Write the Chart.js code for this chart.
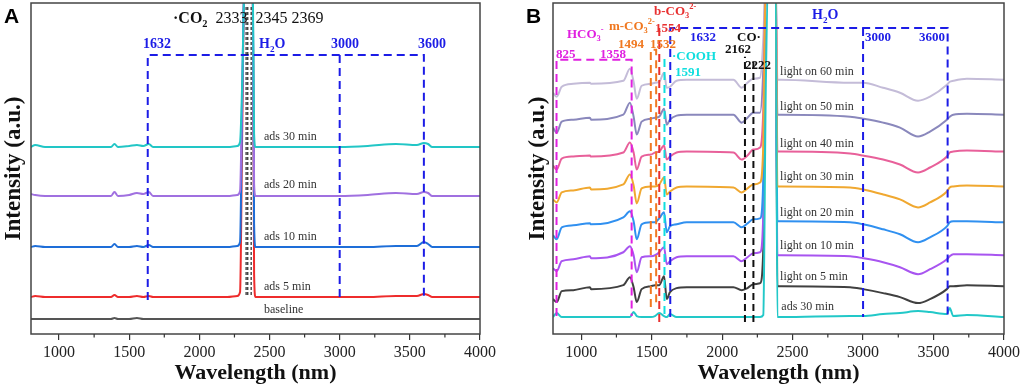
<!DOCTYPE html>
<html>
<head>
<meta charset="utf-8">
<script src="https://cdn.jsdelivr.net/npm/chart.js@4.4.0/dist/chart.umd.min.js"></script>
<style>
  body { margin:0; background:#fff; width:1024px; height:391px; overflow:hidden; position:relative; font-family:"Liberation Serif","Times New Roman",serif; }
  canvas { position:absolute; top:0; }
  .lbl { position:absolute; white-space:nowrap; line-height:1; transform:translateY(-50%); }
  .lbl sub, .lbl sup { font-size:65%; line-height:0; }
  .panel { position:absolute; font-family:"Liberation Sans",Arial,sans-serif; font-weight:bold; font-size:21px; }
</style>
</head>
<body>
<canvas id="chartA" width="512" height="391" style="left:0"></canvas>
<canvas id="chartB" width="512" height="391" style="left:512px"></canvas>
<div class="panel" style="left:4px;top:4px">A</div>
<div class="panel" style="left:526px;top:4px">B</div>
<script>
// ---- panel A data (wavelength grid + one array per spectrum, a.u.) ----
const wavelengthA = [800, 830, 900, 1100, 1300, 1370, 1395, 1420, 1500, 1555, 1600, 1640, 1670, 1800, 2000, 2200, 2270, 2290, 2305, 2320, 2370, 2380, 2390, 2400, 2600, 3000, 3200, 3400, 3550, 3600, 3630, 3660, 3800, 4000];
const ads30A   = [187,189,187,187,187,187,190,187,188,189,188,190,187,187,187,187,188,192,250,340,360,360,200,187,187,187,188,190,189,191,190,187,187,187];
const ads20A   = [140,139,138,138,138,138,142,138,139,141,140,142,138,138,138,138,139,143,240,345,360,360,150,138,138,138,139,141,140,142,141,138,138,138];
const ads10A   = [87,88,87,87,87,87,90,87,87,88,87,89,87,87,87,87,88,92,230,345,360,360,110,87,87,87,87,88,88,92,90,87,87,87];
const ads5A    = [37,38,37,37,37,37,39,37,37,38,37,38,37,37,37,37,38,42,200,345,360,360,60,37,37,37,37,38,38,40,39,37,37,37];
const baseA    = [15,15,15,15,15,15,16,15,15,16,15,15,15,15,15,15,15,15,15,15,15,15,15,15,15,15,15,15,15,15,15,15,15,15];
const h2oBandA = [1632, 3000, 3600];
const co2BandA = [2333, 2345, 2369];

// ---- panel B data ----
const wavelengthB = [800, 826, 862, 944, 1062, 1070, 1299, 1346, 1372, 1394, 1429, 1495, 1524, 1554, 1588, 1607, 1630, 1677, 1749, 2080, 2139, 2180, 2221, 2269, 2292, 2310, 2330, 2360, 2380, 2392, 2420, 2908, 3000, 3142, 3262, 3390, 3475, 3595, 3615, 3640, 3737, 4000];
const light60 = [242,238,248,251,252,251,254,266,253,236,249,251,252,253,262,247,248,254,255,255,247,252,256,257,295,360,360,360,360,255,255,252,252,247,242,234,238,250,253,254,256,255];
const light50 = [207,202,213,215,217,215,220,232,218,200,213,216,217,218,226,210,215,219,220,220,212,217,222,222,265,360,360,360,360,220,220,218,216,212,207,198,203,215,218,220,221,220];
const light40 = [169,165,176,178,179,178,182,192,182,165,178,180,182,183,189,175,178,182,183,182,175,179,185,187,225,360,360,360,360,183,183,181,179,175,170,162,167,178,182,183,184,183];
const light30 = [135,132,142,144,147,145,150,160,149,131,146,148,148,150,157,140,143,147,148,147,142,146,150,152,190,360,360,360,360,148,148,147,145,140,135,127,132,143,147,148,149,148];
const light20 = [99,95,107,109,111,110,117,123,113,95,110,112,112,116,122,102,108,110,112,112,107,111,115,116,155,360,360,360,360,113,113,112,110,105,100,92,97,108,112,113,113,112];
const light10 = [66,63,73,75,78,76,82,88,79,62,77,78,79,82,87,70,73,77,78,78,73,77,81,82,120,360,360,360,360,79,79,78,76,72,67,60,65,75,78,80,80,79];
const light5  = [35,32,43,44,47,45,49,57,47,32,45,48,49,49,58,35,42,46,47,47,44,46,50,51,85,360,360,360,360,48,48,47,45,41,37,31,35,45,48,48,49,48];
const ads30B  = [17,21,17,17,17,17,17,17,22,18,17,17,18,21,18,17,20,17,17,17,17,17,17,17,19,250,360,360,360,17,17,18,18,20,21,23,22,20,26,18,19,17];
const hco3B = [825, 1358];
const mco3B = [1494, 1532];
const bco3B = [1554];
const coohB = [1591];
const h2oB  = [1632, 3000, 3600];
const coB   = [2162, 2222];

const xTicks = [1000, 1500, 2000, 2500, 3000, 3500, 4000];
const minorTicks = [1250, 1750, 2250, 2750, 3250, 3750];

const serif = '"Liberation Serif","Times New Roman",serif';
const BLUE = '#1c1ce6', MAG = '#e020e0', ORG = '#f07820', RED = '#e83030', CYN = '#10dede', BLK = '#111';

function series(xs, ys) { return xs.map((w, i) => ({x: w, y: ys[i]})); }
function spectrum(xs, ys, color) {
  return { data: series(xs, ys), borderColor: color, borderWidth: 2, pointRadius: 0,
           cubicInterpolationMode: 'monotone', fill: false };
}
function guide(points, color, width, dash) {
  return { data: points, borderColor: color, borderWidth: width, borderDash: dash,
           pointRadius: 0, tension: 0, fill: false };
}
// vertical dashed line from y0 up to y1
function vline(w, y0, y1) { return [{x: w, y: y0}, {x: w, y: y1}]; }
// open box: up the left side, across the top, down the right side
function box(w0, w1, top, bot) { return [{x: w0, y: bot}, {x: w0, y: top}, {x: w1, y: top}, {x: w1, y: bot}]; }

const framePlugin = {
  id: 'frame',
  afterDraw(chart) {
    const {ctx, chartArea: a, scales: {x}} = chart;
    ctx.save();
    ctx.strokeStyle = '#444';
    ctx.lineWidth = 1.5;
    ctx.strokeRect(a.left, a.top, a.right - a.left, a.bottom - a.top);
    ctx.lineWidth = 1.2;
    ctx.strokeStyle = '#333';
    minorTicks.forEach(v => {
      const px = x.getPixelForValue(v);
      ctx.beginPath(); ctx.moveTo(px, a.bottom); ctx.lineTo(px, a.bottom + 3.5); ctx.stroke();
    });
    ctx.restore();
  }
};

function labelPlugin(labels, offsetX) {
  return {
    id: 'labels',
    afterRender(chart) {
      if (chart._labelsDone) return;
      chart._labelsDone = true;
      labels.forEach(l => {
        const d = document.createElement('div');
        d.className = 'lbl';
        d.innerHTML = l.html;
        d.style.left = (offsetX + chart.scales.x.getPixelForValue(l.x)) + 'px';
        d.style.top = chart.scales.y.getPixelForValue(l.y) + 'px';
        d.style.color = l.color || '#333';
        d.style.fontSize = (l.size || 12) + 'px';
        if (l.bold) d.style.fontWeight = 'bold';
        document.body.appendChild(d);
      });
    }
  };
}

function makeOptions(yMax, yWidth, rightPad, yTitlePad) {
  return {
    responsive: false, animation: false, devicePixelRatio: 1,
    layout: { padding: { top: 3, right: rightPad, left: 0, bottom: 0 } },
    plugins: { legend: { display: false }, tooltip: { enabled: false } },
    scales: {
      x: {
        type: 'linear', min: 800, max: 4000,
        afterBuildTicks: s => { s.ticks = xTicks.map(v => ({value: v})); },
        afterFit: s => { s.height = 57; },
        grid: { display: true, drawOnChartArea: false, drawTicks: true, tickLength: 6, color: '#333', lineWidth: 1.2 },
        border: { display: false },
        ticks: { color: '#222', font: { family: serif, size: 16 }, padding: 3, maxRotation: 0,
                 callback: v => String(v) },
        title: { display: true, text: 'Wavelength (nm)', color: BLK,
                 font: { family: serif, size: 22, weight: 'bold' }, padding: { top: 0, bottom: 4 } }
      },
      y: {
        min: 0, max: yMax,
        afterFit: s => { s.width = yWidth; },
        grid: { display: false }, border: { display: false },
        ticks: { display: false },
        title: { display: true, text: 'Intensity (a.u.)', color: BLK,
                 font: { family: serif, size: 23, weight: 'bold' }, padding: { top: yTitlePad, bottom: 0 } }
      }
    }
  };
}

// ---- panel A ----
const labelsA = [
  { html: '<b>·CO<sub>2</sub></b>&nbsp; 2333&nbsp; 2345 2369', x: 1812, y: 316, color: BLK, size: 16 },
  { html: '1632', x: 1598, y: 290, color: BLUE, size: 14, bold: true },
  { html: 'H<sub>2</sub>O', x: 2425, y: 290, color: BLUE, size: 14, bold: true },
  { html: '3000', x: 2938, y: 290, color: BLUE, size: 14, bold: true },
  { html: '3600', x: 3558, y: 290, color: BLUE, size: 14, bold: true },
  { html: 'ads 30 min', x: 2461, y: 198 },
  { html: 'ads 20 min', x: 2461, y: 150 },
  { html: 'ads 10 min', x: 2461, y: 98 },
  { html: 'ads 5 min', x: 2461, y: 48 },
  { html: 'baseline', x: 2461, y: 25 }
];

new Chart(document.getElementById('chartA'), {
  type: 'line',
  data: { datasets: [
    ...co2BandA.map(w => guide(vline(w, 39, 327), BLK, 1.1, [3, 2])),
    guide(box(h2oBandA[0], h2oBandA[2], 279, 34), BLUE, 2, [8, 5]),
    guide(vline(h2oBandA[1], 279, 32), BLUE, 2, [8, 5]),
    spectrum(wavelengthA, ads30A, '#22c6c6'),
    spectrum(wavelengthA, ads20A, '#a070e0'),
    spectrum(wavelengthA, ads10A, '#1e6ed8'),
    spectrum(wavelengthA, ads5A, '#ee2c2c'),
    spectrum(wavelengthA, baseA, '#555555')
  ]},
  options: makeOptions(331, 31, 32, 0),
  plugins: [framePlugin, labelPlugin(labelsA, 0)]
});

// ---- panel B ----
const labelsB = [
  { html: 'HCO<sub>3</sub><sup>-</sup>', x: 899, y: 302, color: MAG, size: 13, bold: true },
  { html: '825', x: 821, y: 282, color: MAG, size: 13, bold: true },
  { html: '1358', x: 1133, y: 282, color: MAG, size: 13, bold: true },
  { html: 'm-CO<sub>3</sub><sup>2-</sup>', x: 1197, y: 310, color: ORG, size: 13, bold: true },
  { html: '1494', x: 1261, y: 292, color: ORG, size: 13, bold: true },
  { html: '1532', x: 1488, y: 292, color: ORG, size: 13, bold: true },
  { html: 'b-CO<sub>3</sub><sup>2-</sup>', x: 1517, y: 325, color: RED, size: 13, bold: true },
  { html: '1554', x: 1524, y: 308, color: RED, size: 13, bold: true },
  { html: '·COOH', x: 1644, y: 280, color: CYN, size: 13, bold: true },
  { html: '1591', x: 1666, y: 264, color: CYN, size: 13, bold: true },
  { html: '1632', x: 1772, y: 299, color: BLUE, size: 13, bold: true },
  { html: 'H<sub>2</sub>O', x: 2638, y: 320, color: BLUE, size: 14, bold: true },
  { html: '3000', x: 3014, y: 299, color: BLUE, size: 13, bold: true },
  { html: '3600', x: 3397, y: 299, color: BLUE, size: 13, bold: true },
  { html: 'CO·', x: 2106, y: 299, color: BLK, size: 13, bold: true },
  { html: '2162', x: 2020, y: 287, color: BLK, size: 13, bold: true },
  { html: '2222', x: 2162, y: 271, color: BLK, size: 13, bold: true },
  { html: 'light on 60 min', x: 2411, y: 264 },
  { html: 'light on 50 min', x: 2411, y: 229 },
  { html: 'light on 40 min', x: 2411, y: 192 },
  { html: 'light on 30 min', x: 2411, y: 158 },
  { html: 'light on 20 min', x: 2411, y: 122 },
  { html: 'light on 10 min', x: 2411, y: 89 },
  { html: 'light on 5 min', x: 2411, y: 58 },
  { html: 'ads 30 min', x: 2420, y: 28 }
];

new Chart(document.getElementById('chartB'), {
  type: 'line',
  data: { datasets: [
    guide(box(hco3B[0], hco3B[1], 275, 18), MAG, 2, [8, 5]),
    guide(box(mco3B[0], mco3B[1], 285, 27), ORG, 2, [8, 5]),
    guide(vline(bco3B[0], 12, 308), RED, 2, [8, 5]),
    guide(vline(coohB[0], 20, 280), CYN, 2, [8, 5]),
    guide(box(h2oB[0], h2oB[2], 307, 17), BLUE, 2, [8, 5]),
    guide(vline(h2oB[1], 307, 17), BLUE, 2, [8, 5]),
    guide(vline(coB[0], 12, 278), BLK, 2, [7, 4]),
    guide(vline(coB[1], 12, 275), BLK, 2, [7, 4]),
    spectrum(wavelengthB, ads30B, '#22c8c8'),
    spectrum(wavelengthB, light30, '#f0a830'),
    spectrum(wavelengthB, light40, '#e8609a'),
    spectrum(wavelengthB, light60, '#c4bcd8'),
    spectrum(wavelengthB, light50, '#8a88bc'),
    spectrum(wavelengthB, light20, '#3090f0'),
    spectrum(wavelengthB, light10, '#a855f0'),
    spectrum(wavelengthB, light5, '#404040')
  ]},
  options: makeOptions(332, 41, 20, 12),
  plugins: [framePlugin, labelPlugin(labelsB, 512)]
});
</script>
</body>
</html>
